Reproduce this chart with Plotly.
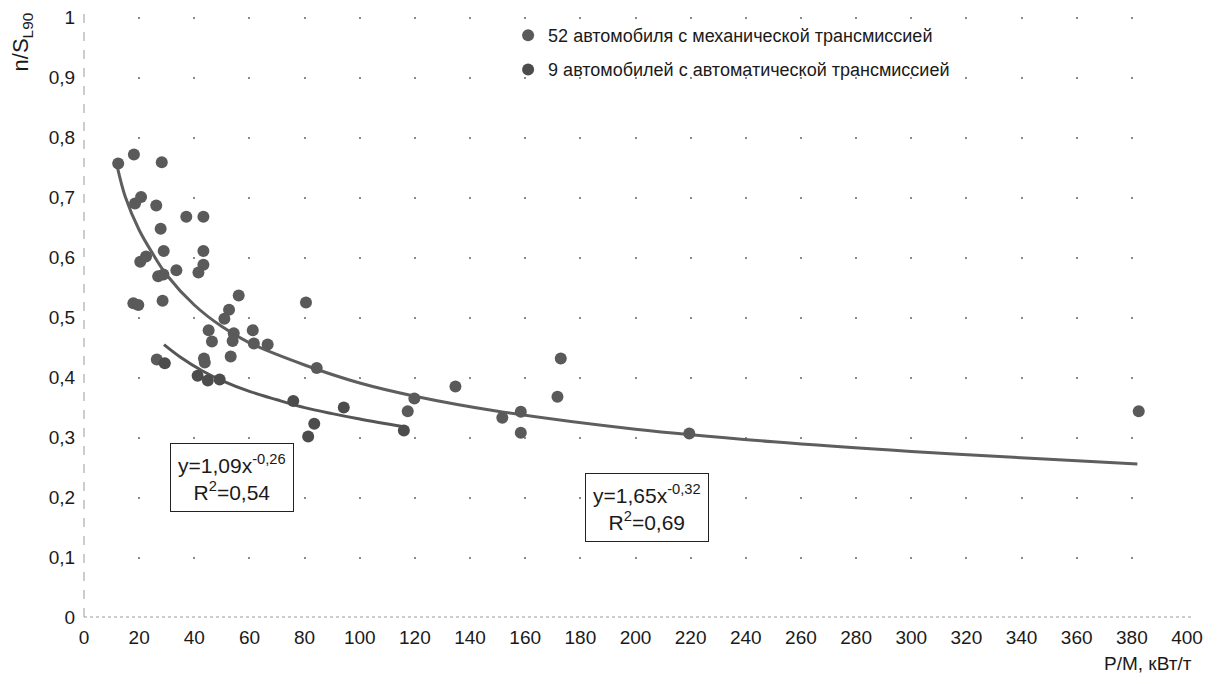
import plotly.graph_objects as go

# 52 cars with manual gearbox
manual_x = [12.4, 18.1, 28.2, 18.5, 20.7, 26.2, 37.1, 43.3, 27.8, 28.9,
            43.3, 20.4, 22.5, 43.3, 41.5, 33.5, 26.9, 28.8, 17.9, 19.7,
            28.5, 56.1, 80.5, 52.6, 50.9, 45.2, 54.3, 61.2, 46.4, 53.9,
            61.6, 66.6, 53.2, 43.5, 43.8, 26.4, 84.4, 134.7, 119.8, 117.4,
            172.9, 171.7, 158.4, 151.7, 158.4, 219.5, 382.5]
manual_y = [0.756, 0.771, 0.758, 0.689, 0.700, 0.686, 0.667, 0.667, 0.647, 0.610,
            0.610, 0.592, 0.601, 0.587, 0.574, 0.578, 0.568, 0.571, 0.523, 0.520,
            0.527, 0.536, 0.524, 0.512, 0.497, 0.478, 0.473, 0.478, 0.459, 0.460,
            0.456, 0.454, 0.434, 0.431, 0.424, 0.429, 0.415, 0.384, 0.364, 0.343,
            0.431, 0.367, 0.342, 0.332, 0.307, 0.306, 0.343]

# 9 cars with automatic gearbox
auto_x = [29.3, 41.2, 44.9, 49.2, 75.9, 81.3, 83.5, 94.2, 116.0]
auto_y = [0.423, 0.402, 0.394, 0.396, 0.360, 0.301, 0.322, 0.349, 0.311]

# trend lines as they appear on the chart
trend_manual_x = [12, 15, 20, 25, 30, 40, 50, 60, 80, 100, 120, 150, 200, 250, 300, 350, 382]
trend_manual_y = [0.752, 0.700, 0.645, 0.605, 0.570, 0.520, 0.484, 0.457, 0.420, 0.390,
                  0.368, 0.343, 0.313, 0.292, 0.276, 0.263, 0.255]
trend_auto_x = [29, 35, 43, 50, 60, 70, 80, 90, 100, 116]
trend_auto_y = [0.454, 0.433, 0.410, 0.394, 0.376, 0.362, 0.349, 0.339, 0.330, 0.317]

legend_names = ["52 автомобиля с механической трансмиссией",
                "9 автомобилей с автоматической трансмиссией"]

font = "Liberation Sans, Arial, sans-serif"
txt = "#1a1a1a"

fig = go.Figure()

fig.add_trace(go.Scatter(x=trend_manual_x, y=trend_manual_y, mode="lines",
                         line=dict(color="#5e5e5e", width=3, shape="spline"),
                         showlegend=False, hoverinfo="skip"))
fig.add_trace(go.Scatter(x=trend_auto_x, y=trend_auto_y, mode="lines",
                         line=dict(color="#555555", width=3, shape="spline"),
                         showlegend=False, hoverinfo="skip"))

fig.add_trace(go.Scatter(x=manual_x, y=manual_y, mode="markers", name=legend_names[0],
                         marker=dict(size=12, color="#5a5a5a"), legend="legend"))
fig.add_trace(go.Scatter(x=auto_x, y=auto_y, mode="markers", name=legend_names[1],
                         marker=dict(size=12, color="#4c4c4c"), legend="legend2"))

# equation boxes
fig.add_annotation(x=53.5, y=0.232, xref="x", yref="y", showarrow=False,
                   text="y=1,09x<sup>-0,26</sup><br>R<sup>2</sup>=0,54",
                   font=dict(family=font, size=21, color=txt),
                   bordercolor="#222222", borderwidth=1, borderpad=7, bgcolor="white")
fig.add_annotation(x=204, y=0.182, xref="x", yref="y", showarrow=False,
                   text="y=1,65x<sup>-0,32</sup><br>R<sup>2</sup>=0,69",
                   font=dict(family=font, size=21, color=txt),
                   bordercolor="#222222", borderwidth=1, borderpad=7, bgcolor="white")

# axis titles
fig.add_annotation(x=-0.056, y=0.958, xref="paper", yref="paper", showarrow=False,
                   xanchor="center", yanchor="middle",
                   text="n/S<sub>L90</sub>", textangle=-90,
                   font=dict(family=font, size=22, color=txt))
fig.add_annotation(x=1.006, y=-0.078, xref="paper", yref="paper", showarrow=False,
                   xanchor="right", yanchor="middle", text="P/M, кВт/т",
                   font=dict(family=font, size=19, color=txt))

# dashed axis lines
fig.add_shape(type="line", xref="paper", yref="paper", x0=0, x1=0, y0=0, y1=1.012,
              line=dict(color="#9a9a9a", width=1, dash="dash"), layer="below")
fig.add_shape(type="line", xref="paper", yref="paper", x0=0, x1=1.005, y0=0, y1=0,
              line=dict(color="#9a9a9a", width=1, dash="dot"), layer="below")

# dot grid: vertical grid dashed so that dots fall on every 0.1 step
fig.update_xaxes(range=[0, 400], dtick=20, showline=False, zeroline=False,
                 automargin=False,
                 showgrid=True, gridcolor="#8a8a8a", gridwidth=2, griddash="2px,58px",
                 ticks="outside", ticklen=3, tickcolor="rgba(0,0,0,0)",
                 tickfont=dict(family=font, size=19, color=txt))
fig.update_yaxes(range=[0, 1], dtick=0.1, showline=False, zeroline=False,
                 automargin=False, showgrid=False, ticklabeloverflow="allow",
                 ticks="outside", ticklen=4, tickcolor="rgba(0,0,0,0)",
                 tickfont=dict(family=font, size=19, color=txt))

fig.update_layout(
    width=1217, height=684,
    margin=dict(l=76, r=38, t=9, b=75),
    paper_bgcolor="white", plot_bgcolor="white",
    separators=", ",
    font=dict(family=font, color=txt),
    legend=dict(x=0.3845, y=1.0, xanchor="left", yanchor="top",
                font=dict(family=font, size=18), bgcolor="rgba(0,0,0,0)"),
    legend2=dict(x=0.3845, y=0.943, xanchor="left", yanchor="top",
                 font=dict(family=font, size=18), bgcolor="rgba(0,0,0,0)"),
)

fig.write_html("out.html")
